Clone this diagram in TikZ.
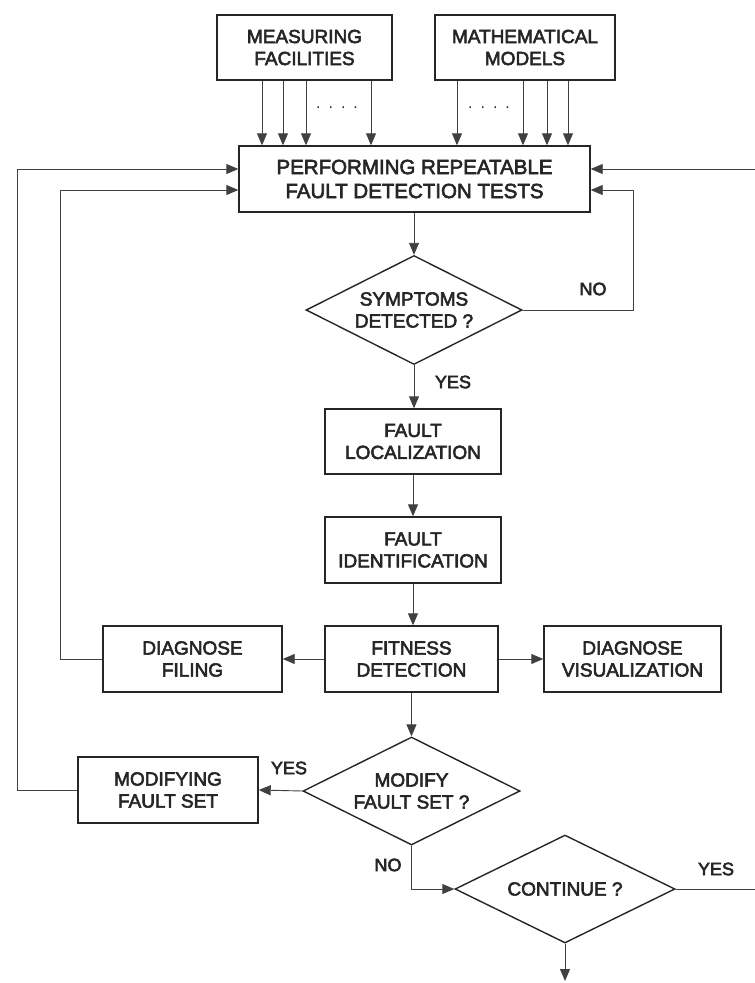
\documentclass[tikz,border=0pt]{standalone}
\usepackage{fontspec}
\setmainfont{Liberation Sans}
\newfontfamily\diagfont[FakeBold=3]{Liberation Sans}
\usetikzlibrary{shapes.geometric,arrows.meta,calc}
\begin{document}
\begin{tikzpicture}[x=1pt,y=-1pt,
  every node/.style={font=\diagfont\fontsize{19}{22}\selectfont, align=center, inner sep=0pt, text=black!85},
  box/.style={draw=black!85, line width=1.4pt, minimum width=#1, minimum height=66pt},
  box/.default=176pt,
  decision/.style={draw=black!85, diamond, line width=1.4pt, aspect=2},
  link/.style={line width=0.9pt, draw=black!75},
  arr/.style={link, -{Triangle[length=12pt,width=10pt]}},
  lbl/.style={font=\diagfont\fontsize{18}{20}\selectfont}
]
\useasboundingbox (0,0) rectangle (755,983);

% input sources
\node[box=175pt, minimum height=65pt] (meas) at (304.5,47.5) {MEASURING\\FACILITIES};
\node[box=180pt, minimum height=65pt] (math) at (525,47.5) {MATHEMATICAL\\MODELS};

% main test block
\node[box=351pt, font=\diagfont\fontsize{20.5}{24}\selectfont] (perf) at (414.5,179) {PERFORMING REPEATABLE\\FAULT DETECTION TESTS};

% flow
\node[decision, minimum width=216pt, minimum height=109pt] (symp) at (414,310) {SYMPTOMS\\DETECTED ?};
\node[box, minimum height=65pt] (loc) at (413,441.5) {FAULT\\LOCALIZATION};
\node[box] (ident) at (413,550) {FAULT\\IDENTIFICATION};
\node[box=173pt] (fit) at (411.5,659) {FITNESS\\DETECTION};
\node[box=179pt] (filing) at (192.5,659) {DIAGNOSE\\FILING};
\node[box=177pt] (vis) at (632.5,659) {DIAGNOSE\\VISUALIZATION};
\node[decision, minimum width=217pt, minimum height=108pt] (modify) at (411.5,791) {MODIFY\\FAULT SET ?};
\node[box=180pt] (modset) at (168,790) {MODIFYING\\FAULT SET};
\node[decision, minimum width=220pt, minimum height=108pt] (cont) at (565,889) {CONTINUE ?};

% labels
\node[lbl] (no1) at (593,289) {NO};
\node[lbl] (yes1) at (453,382) {YES};
\node[lbl] (yes2) at (289,768) {YES};
\node[lbl] (no2) at (388,865) {NO};
\node[lbl] (yes3) at (716,869) {YES};

% many measurement / model channels
\foreach \xx in {262,283,306,371}
  \draw[arr] (\xx,0 |- meas.south) -- (\xx,0 |- perf.north);
\foreach \xx in {457,523,547,568}
  \draw[arr] (\xx,0 |- math.south) -- (\xx,0 |- perf.north);
\node[font=\fontsize{16}{16}\selectfont] (dots1) at (337,108) {.\,\,\,.\,\,\,.\,\,\,.};
\node[font=\fontsize{16}{16}\selectfont] (dots2) at (489,108) {.\,\,\,.\,\,\,.\,\,\,.};

% main chain
\draw[arr] (perf.south -| symp.north) -- (symp.north);
\draw[arr] (symp.south) -- (symp.south |- loc.north);
\draw[arr] (loc.south) -- (ident.north);
\draw[arr] (ident.south) -- (ident.south |- fit.north);
\draw[arr] (fit.west) -- (filing.east);
\draw[arr] (fit.east) -- (vis.west);
\draw[arr] (fit.south) -- (modify.north);
\draw[arr] (modify.west) -- (modset.east);
\draw[arr] (modify.south) |- (cont.west);

% feedback loops
\draw[arr] (symp.east) -- (633,0 |- symp.east) |- ($(perf.east)+(0,11)$);
\draw[arr] (filing.west) -- (60,0 |- filing.west) |- ($(perf.west)+(0,11)$);
\draw[arr] (modset.west) -- (17,0 |- modset.west) |- ($(perf.west)+(0,-10)$);

% continuation off the page
\coordinate (contout) at (755,889);
\coordinate (contin) at (755,169);
\coordinate (endout) at (565,981);
\draw[link] (cont.east) -- (contout);
\draw[arr] (contin) -- ($(perf.east)+(0,-10)$);
\draw[arr] (cont.south) -- (endout);
\end{tikzpicture}
\end{document}
